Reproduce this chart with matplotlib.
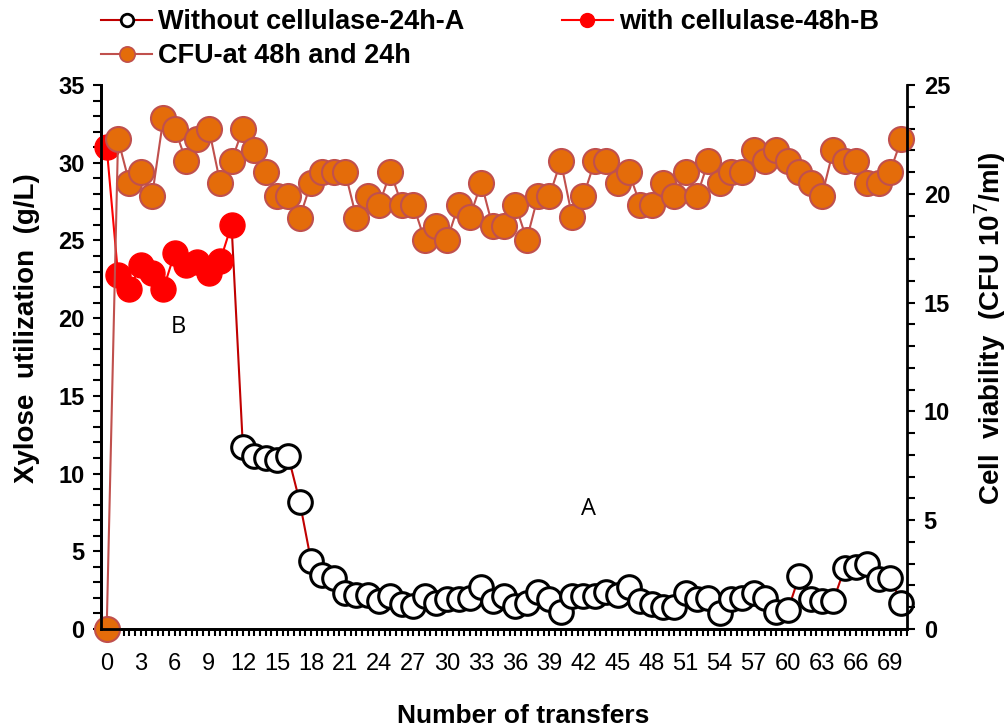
import numpy as np
import matplotlib
matplotlib.use('Agg')
import matplotlib.pyplot as plt
from matplotlib.lines import Line2D
from matplotlib.ticker import MultipleLocator

### Data
transfers = np.arange(0, 71)

# CFU (10^7/ml), secondary axis
cfu = [0.0, 22.5, 20.5, 21.0, 19.9, 23.5, 23.0, 21.5, 22.5, 23.0,
       20.5, 21.5, 23.0, 22.0, 21.0, 19.9, 19.9, 18.9, 20.5, 21.0,
       21.0, 21.0, 18.9, 19.9, 19.5, 21.0, 19.5, 19.5, 17.9, 18.5,
       17.9, 19.5, 18.95, 20.5, 18.5, 18.5, 19.5, 17.9, 19.9, 19.9,
       21.5, 18.95, 19.9, 21.5, 21.5, 20.5, 21.0, 19.5, 19.5, 20.5,
       19.9, 21.0, 19.9, 21.5, 20.5, 21.0, 21.0, 22.0, 21.5, 22.0,
       21.5, 21.0, 20.5, 19.9, 22.0, 21.5, 21.5, 20.5, 20.5, 21.0,
       22.5]

# with cellulase-48h-B (transfers 0..11)
b_idx = np.arange(0, 12)
b_vals = [31.0, 22.8, 21.9, 23.4, 22.9, 21.9, 24.2, 23.4, 23.6, 22.9, 23.7, 26.0]

# without cellulase-24h-A (line starts from transfer 11, markers from 12)
a_idx = np.arange(11, 71)
a_vals = [26.0, 11.7, 11.1, 11.0, 10.9, 11.1, 8.2, 4.4, 3.5, 3.3,
          2.3, 2.2, 2.2, 1.8, 2.1, 1.6, 1.5, 2.1, 1.7, 1.9,
          1.9, 2.0, 2.7, 1.8, 2.1, 1.5, 1.7, 2.4, 1.9, 1.1,
          2.1, 2.1, 2.1, 2.4, 2.2, 2.7, 1.8, 1.6, 1.4, 1.4,
          2.3, 1.9, 2.0, 1.0, 1.9, 2.0, 2.3, 2.0, 1.1, 1.2,
          3.4, 1.9, 1.8, 1.8, 3.9, 4.0, 4.2, 3.2, 3.3, 1.7]

xtick_pos = np.arange(0, 70, 3)

RED_A = '#C00000'
RED_B = '#FF0000'
ORANGE = '#E46C0A'
ROSE = '#C0504D'

plt.rcParams['font.family'] = ['Liberation Sans', 'DejaVu Sans']

W, H = 1008, 728
fig = plt.figure(figsize=(W / 100, H / 100), dpi=100)
ax = fig.add_axes([0.1002, 0.136, 0.7996, 0.7472])

ax.plot(a_idx, a_vals, color=RED_A, lw=1.5, marker='o', ms=17, mfc='white',
        mec='black', mew=2.2, markevery=slice(1, None), clip_on=False, zorder=2)
ax.plot(b_idx, b_vals, color=RED_B, lw=1.5, marker='o', ms=18, mfc=RED_B,
        mec=RED_B, mew=1, clip_on=False, zorder=3)

ax.text(6.3, 19.4, 'B', fontsize=17, family='Open Sans', ha='center', va='center')
ax.text(42.4, 7.7, 'A', fontsize=17, family='Open Sans', ha='center', va='center')

ax2 = ax.twinx()
ax2.plot(transfers, cfu, color=ROSE, lw=1.5, marker='o', ms=18, mfc=ORANGE,
         mec=ROSE, mew=1.5, clip_on=False)

ax.set_xlim(-0.5, 70.5)
ax.set_ylim(0, 35)
ax2.set_ylim(0, 25)

ax.set_xticks(xtick_pos)
ax.set_xticklabels([str(v) for v in xtick_pos], fontsize=17)
ax.xaxis.set_minor_locator(MultipleLocator(0.5))
ax.set_yticks(np.arange(0, 36, 5))
ax.yaxis.set_minor_locator(MultipleLocator(1))
ax2.set_yticks(np.arange(0, 26, 5))
ax2.yaxis.set_minor_locator(MultipleLocator(1))

for lab in ax.get_yticklabels() + ax2.get_yticklabels():
    lab.set_fontweight('bold')
    lab.set_fontsize(17)

ax.tick_params(axis='x', which='both', direction='out', length=5, width=1.5, pad=12)
ax.tick_params(axis='y', which='both', direction='out', length=6, width=1.5, pad=6)
ax2.tick_params(axis='y', which='both', direction='out', length=6, width=1.5, pad=6)

for a in (ax, ax2):
    a.spines['top'].set_visible(False)
    for s in a.spines.values():
        s.set_linewidth(2)
ax.spines['right'].set_visible(False)

### Axis titles placed in figure pixels
label_font = {'fontsize': 19, 'fontweight': 'bold', 'ha': 'center', 'va': 'center'}
fig.text(523 / W, 1 - 716 / H, 'Number of transfers', **label_font)
fig.text(27 / W, 1 - 328 / H, 'Xylose  utilization  (g/L)', rotation=90,
         fontsize=20, fontweight='bold', ha='center', va='center')
fig.text(990 / W, 1 - 328 / H, 'Cell  viability  (CFU 10$^{7}$/ml)', rotation=90,
         fontsize=20, fontweight='bold', ha='center', va='center')

### Legend above the plot area
handles = [
    Line2D([], [], color=RED_A, lw=1.5, marker='o', ms=9, mfc='white', mec='black', mew=2),
    Line2D([], [], color=ROSE, lw=1.5, marker='o', ms=11, mfc=ORANGE, mec=ROSE, mew=1.2),
    Line2D([], [], color=RED_B, lw=1.5, marker='o', ms=10, mfc=RED_B, mec=RED_B),
]
labels = ['Without cellulase-24h-A', 'CFU-at 48h and 24h', 'with cellulase-48h-B']
fig.legend(handles, labels, ncol=2, loc='upper left', bbox_to_anchor=(0.076, 1.021),
           frameon=False, handlelength=1.9, handletextpad=0.2, columnspacing=3.6,
           labelspacing=0.3,
           prop={'weight': 'bold', 'size': 19.5})

fig.savefig('out.png', dpi=100)
